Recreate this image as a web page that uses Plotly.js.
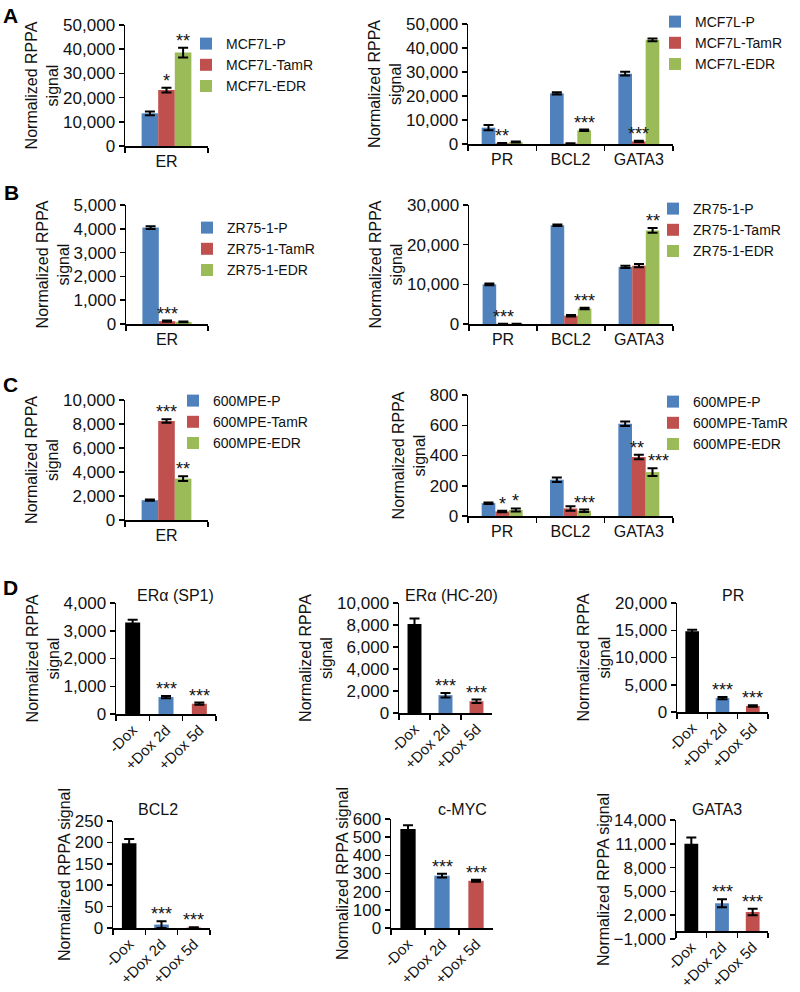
<!DOCTYPE html>
<html><head><meta charset="utf-8">
<script src="https://cdn.plot.ly/plotly-3.0.1.min.js"></script>
<style>html,body{margin:0;padding:0;background:#fff}#chart{width:800px;height:992px}</style>
</head><body><div id="chart"></div>
<script>
// ---------------- DATA ----------------
const catsER = ['ER'];
const cats3 = ['PR', 'BCL2', 'GATA3'];
const catsDox = ['-Dox', '+Dox 2d', '+Dox 5d'];

// Panel A (MCF7L)
const namesA = ['MCF7L-P', 'MCF7L-TamR', 'MCF7L-EDR'];
const aLeftValues = [[13500], [23100], [38600]];
const aLeftErrors = [[800], [1000], [2000]];
const aLeftStars = [[''], ['*'], ['**']];
const aRightValues = [[6800, 21100, 29300], [300, 200, 1100], [800, 5700, 43400]];
const aRightErrors = [[1100, 500, 800], [100, 100, 300], [200, 300, 600]];
const aRightStars = [['', '', ''], ['**', '', '***'], ['', '***', '']];

// Panel B (ZR75-1)
const namesB = ['ZR75-1-P', 'ZR75-1-TamR', 'ZR75-1-EDR'];
const bLeftValues = [[4050], [120], [90]];
const bLeftErrors = [[60], [25], [15]];
const bLeftStars = [[''], ['***'], ['']];
const bRightValues = [[10000, 24900, 14400], [60, 2100, 14700], [40, 3900, 23600]];
const bRightErrors = [[200, 200, 300], [20, 200, 400], [20, 200, 600]];
const bRightStars = [['', '', ''], ['***', '', ''], ['', '***', '**']];

// Panel C (600MPE)
const namesC = ['600MPE-P', '600MPE-TamR', '600MPE-EDR'];
const cLeftValues = [[1650], [8250], [3450]];
const cLeftErrors = [[50], [150], [200]];
const cLeftStars = [[''], ['***'], ['**']];
const cRightValues = [[85, 240, 610], [30, 50, 390], [40, 35, 290]];
const cRightErrors = [[5, 15, 15], [5, 15, 15], [10, 8, 25]];
const cRightStars = [['', '', ''], ['*', '', '**'], ['*', '***', '***']];

// Panel D (Dox time course)
const dTitles = ['ERα (SP1)', 'ERα (HC-20)', 'PR', 'BCL2', 'c-MYC', 'GATA3'];
const dSP1 = [3300, 610, 370], dSP1Err = [100, 40, 40];
const dHC20 = [8080, 1620, 1070], dHC20Err = [500, 200, 150];
const dPR = [14800, 2550, 1100], dPRErr = [300, 200, 150];
const dBCL2 = [198, 8, 1], dBCL2Err = [10, 8, 1];
const dMYC = [545, 288, 260], dMYCErr = [20, 10, 5];
const dGATA3 = [11000, 3500, 2400], dGATA3Err = [800, 500, 400];
const dStars = ['', '***', '***'];

// ---------------- STYLE / LAYOUT ----------------
const W = 800, H = 992;
const seriesColors = ['#4F81BD', '#C0504D', '#9BBB59'];
const doxColors = ['#000000', '#4F81BD', '#C0504D'];
const FONT = 'Liberation Sans, Arial, sans-serif';
const BARGAP = 0.4;

// plot-area boxes in px: [left, right, top, bottom]
const boxes = {
  1: [125, 208, 25, 146], 2: [468, 673, 24, 144],
  3: [126, 208, 205, 324], 4: [469, 673, 205, 324],
  5: [125, 208, 400, 520], 6: [468, 673, 395, 516],
  7: [116, 216, 603, 714], 8: [399, 492, 603, 713], 9: [677, 768, 603, 712],
  10: [113, 210, 821, 928], 11: [391, 493, 819, 928], 12: [676, 768, 820, 939]
};
const yRanges = {1:[0,50000],2:[0,50000],3:[0,5000],4:[0,30000],5:[0,10000],6:[0,800],
  7:[0,4000],8:[0,10000],9:[0,20000],10:[0,250],11:[0,600],12:[-1000,14000]};
const yDticks = {1:10000,2:10000,3:1000,4:10000,5:2000,6:200,7:1000,8:2000,9:5000,10:50,11:100,12:3000};
// small horizontal nudges (px) for crowded significance labels: {panel: {series_index: px}}
const starNudge = {6: {'1_2': -2, '2_2': 6}};

const traces = [];
const annotations = [];
const layout = {
  width: W, height: H, autosize: false,
  margin: {l: 0, r: 0, t: 0, b: 0, pad: 0},
  paper_bgcolor: '#fff', plot_bgcolor: 'rgba(0,0,0,0)',
  font: {family: FONT, size: 15, color: '#111'},
  barmode: 'group', bargap: BARGAP, bargroupgap: 0,
  showlegend: true
};

function axId(letter, n) { return n === 1 ? letter : letter + n; }
function axKey(letter, n) { return n === 1 ? letter + 'axis' : letter + 'axis' + n; }

function addAxes(n, rotated, ytitle) {
  const b = boxes[n];
  const xd = [b[0] / W, b[1] / W];
  const yd = [1 - b[3] / H, 1 - b[2] / H];
  const common = {
    showline: true, linecolor: '#000', linewidth: 1.5,
    ticks: 'outside', ticklen: 5, tickwidth: 1.5, tickcolor: '#000',
    showgrid: false, zeroline: false, fixedrange: true
  };
  const xa = Object.assign({}, common, {
    domain: xd, anchor: axId('y', n), type: 'category', tickson: 'boundaries',
    tickangle: rotated ? -45 : 0,
    tickfont: {size: rotated ? 15 : 16, family: FONT, color: '#111'}
  });
  const yr = yRanges[n];
  if (yr[0] < 0) {
    xa.anchor = 'free';
    xa.position = yd[0] + (yd[1] - yd[0]) * (0 - yr[0]) / (yr[1] - yr[0]);
  }
  layout[axKey('x', n)] = xa;
  layout[axKey('y', n)] = Object.assign({}, common, {
    domain: yd, anchor: axId('x', n), range: yr, dtick: yDticks[n], tick0: yr[0],
    tickformat: ',d',
    tickfont: {size: 17, family: FONT, color: '#111'},
    title: {text: ytitle, font: {size: 16, family: FONT, color: '#111'}}
  });
}

function groupPanel(n, cats, names, values, errors, stars, legendId, legPos) {
  addAxes(n, false, 'Normalized RPPA<br>signal');
  const nSeries = values.length;
  const barW = (1 - BARGAP) / nSeries;
  const nudge = starNudge[n] || {};
  for (let s = 0; s < nSeries; s++) {
    traces.push({
      type: 'bar', x: cats, y: values[s], name: names[s],
      xaxis: axId('x', n), yaxis: axId('y', n), legend: legendId,
      marker: {color: seriesColors[s], line: {width: 0}},
      error_y: {type: 'data', array: errors[s], visible: true, color: '#000', thickness: 2, width: 5},
      hoverinfo: 'skip'
    });
    for (let i = 0; i < cats.length; i++) {
      if (stars[s][i]) {
        annotations.push({
          xref: axId('x', n), yref: axId('y', n),
          x: i + (s - (nSeries - 1) / 2) * barW, y: values[s][i] + errors[s][i],
          text: stars[s][i], showarrow: false, yanchor: 'bottom', xanchor: 'center', yshift: -5,
          xshift: nudge[s + '_' + i] || 0,
          font: {size: 18, family: FONT, color: '#111'}
        });
      }
    }
  }
  layout[legendId] = {
    x: (legPos[0] - 40) / W, y: 1 - (legPos[1] - 15) / H, xanchor: 'left', yanchor: 'top',
    bgcolor: 'rgba(0,0,0,0)', borderwidth: 0, tracegroupgap: 0,
    font: {size: 14, family: FONT, color: '#111'}, traceorder: 'normal'
  };
}

function doxPanel(n, vals, errs, title, titlePos, ytitle) {
  addAxes(n, true, ytitle);
  traces.push({
    type: 'bar', x: catsDox, y: vals, width: 0.45, showlegend: false,
    xaxis: axId('x', n), yaxis: axId('y', n),
    marker: {color: doxColors, line: {width: 0}},
    error_y: {type: 'data', array: errs, visible: true, color: '#000', thickness: 2, width: 5},
    hoverinfo: 'skip'
  });
  for (let i = 0; i < catsDox.length; i++) {
    if (dStars[i]) {
      annotations.push({
        xref: axId('x', n), yref: axId('y', n), x: i, y: vals[i] + errs[i],
        text: dStars[i], showarrow: false, yanchor: 'bottom', yshift: -5,
        font: {size: 18, family: FONT, color: '#111'}
      });
    }
  }
  annotations.push({
    xref: 'paper', yref: 'paper', x: titlePos[0] / W, y: 1 - titlePos[1] / H,
    xanchor: 'center', yanchor: 'middle', text: title, showarrow: false,
    font: {size: 16, family: FONT, color: '#111'}
  });
}

groupPanel(1, catsER, namesA, aLeftValues, aLeftErrors, aLeftStars, 'legend', [226, 43]);
groupPanel(2, cats3, namesA, aRightValues, aRightErrors, aRightStars, 'legend2', [695, 21]);
groupPanel(3, catsER, namesB, bLeftValues, bLeftErrors, bLeftStars, 'legend3', [227, 227]);
groupPanel(4, cats3, namesB, bRightValues, bRightErrors, bRightStars, 'legend4', [693, 208]);
groupPanel(5, catsER, namesC, cLeftValues, cLeftErrors, cLeftStars, 'legend5', [213, 400]);
groupPanel(6, cats3, namesC, cRightValues, cRightErrors, cRightStars, 'legend6', [693, 401]);

const t2 = 'Normalized RPPA<br>signal', t1 = 'Normalized RPPA signal';
doxPanel(7, dSP1, dSP1Err, dTitles[0], [175, 595], t2);
doxPanel(8, dHC20, dHC20Err, dTitles[1], [452, 595], t2);
doxPanel(9, dPR, dPRErr, dTitles[2], [733, 595], t2);
doxPanel(10, dBCL2, dBCL2Err, dTitles[3], [158, 809], t1);
doxPanel(11, dMYC, dMYCErr, dTitles[4], [462, 809], t1);
doxPanel(12, dGATA3, dGATA3Err, dTitles[5], [717, 809], t1);

// panel letters
[['A', 10, 15], ['B', 11, 192], ['C', 10, 384], ['D', 10, 587]].forEach(p => {
  annotations.push({
    xref: 'paper', yref: 'paper', x: p[1] / W, y: 1 - p[2] / H, xanchor: 'center', yanchor: 'middle',
    text: '<b>' + p[0] + '</b>', showarrow: false, font: {size: 21, family: FONT, color: '#000'}
  });
});

layout.annotations = annotations;
Plotly.newPlot('chart', traces, layout, {staticPlot: true, displayModeBar: false});
</script></body></html>
